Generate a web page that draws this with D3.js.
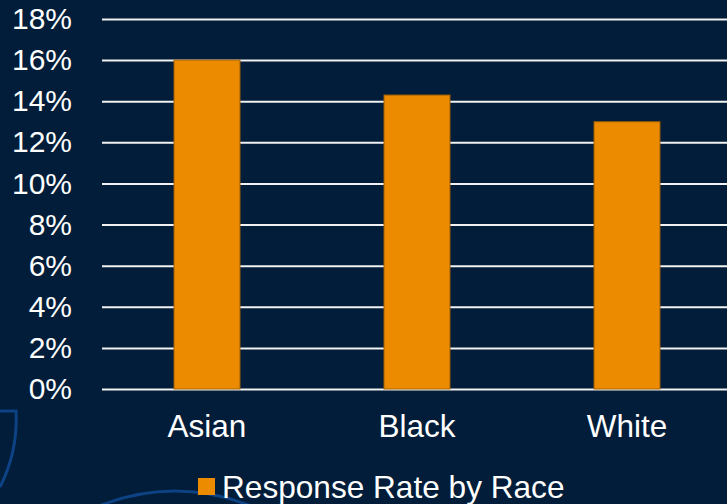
<!DOCTYPE html>
<html>
<head>
<meta charset="utf-8">
<script src="https://cdn.jsdelivr.net/npm/d3@7"></script>
<style>
  html, body { margin: 0; padding: 0; background: #011d39; overflow: hidden; }
  svg { display: block; font-family: "Liberation Sans", Arial, sans-serif; }
</style>
</head>
<body>
<svg id="chart" width="727" height="504"></svg>
<script>
const width = 727;
const height = 504;

const races = ["Asian", "Black", "White"];
const rates = [0.160, 0.143, 0.130];
const tickValues = [0, 0.02, 0.04, 0.06, 0.08, 0.10, 0.12, 0.14, 0.16, 0.18];
const seriesName = "Response Rate by Race";

const svg = d3.select("#chart");

svg.append("rect").attr("width", width).attr("height", height).attr("fill", "#011d39");

// decorative arcs in the background
svg.append("path")
  .attr("d", "M0,411 L16,411 A150,150 0 0 1 0,487")
  .attr("fill", "none").attr("stroke", "#0d4284").attr("stroke-width", 3);
svg.append("circle")
  .attr("cx", 175).attr("cy", 690).attr("r", 199)
  .attr("fill", "none").attr("stroke", "#0d4284").attr("stroke-width", 3);

const x = d3.scaleBand().domain(races).range([102, 732]).paddingInner(0.686).paddingOuter(0.343);
const y = d3.scaleLinear().domain([0, 0.18]).range([389, 19]);

// gridlines + tick labels
const yAxis = svg.append("g")
  .attr("transform", "translate(102,0)")
  .call(d3.axisLeft(y).tickValues(tickValues).tickFormat(d3.format(".0%")).tickSize(-630).tickPadding(30));
yAxis.select(".domain").remove();
yAxis.selectAll(".tick line").attr("stroke", "#f2f2f2").attr("stroke-width", 2);
yAxis.selectAll(".tick text")
  .attr("fill", "#ffffff").attr("font-size", 30)
  .attr("font-family", "Liberation Sans, Arial, sans-serif");

// bars
svg.selectAll("rect.bar")
  .data(races)
  .enter().append("rect")
  .attr("class", "bar")
  .attr("x", d => x(d))
  .attr("width", x.bandwidth())
  .attr("y", (d, i) => y(rates[i]))
  .attr("height", (d, i) => y(0) - y(rates[i]))
  .attr("fill", "#ed8b00")
  .attr("stroke", "#a86200")
  .attr("stroke-width", 1);

// category labels
svg.selectAll("text.cat")
  .data(races)
  .enter().append("text")
  .attr("class", "cat")
  .attr("x", d => x(d) + x.bandwidth() / 2)
  .attr("y", 437)
  .attr("text-anchor", "middle")
  .attr("fill", "#ffffff")
  .attr("font-size", 31.5)
  .text(d => d);

// legend
svg.append("rect").attr("x", 198).attr("y", 478).attr("width", 17).attr("height", 17).attr("fill", "#ed8b00");
svg.append("text")
  .attr("x", 222).attr("y", 498)
  .attr("fill", "#ffffff")
  .attr("font-size", 31.6)
  .text(seriesName);
</script>
</body>
</html>
